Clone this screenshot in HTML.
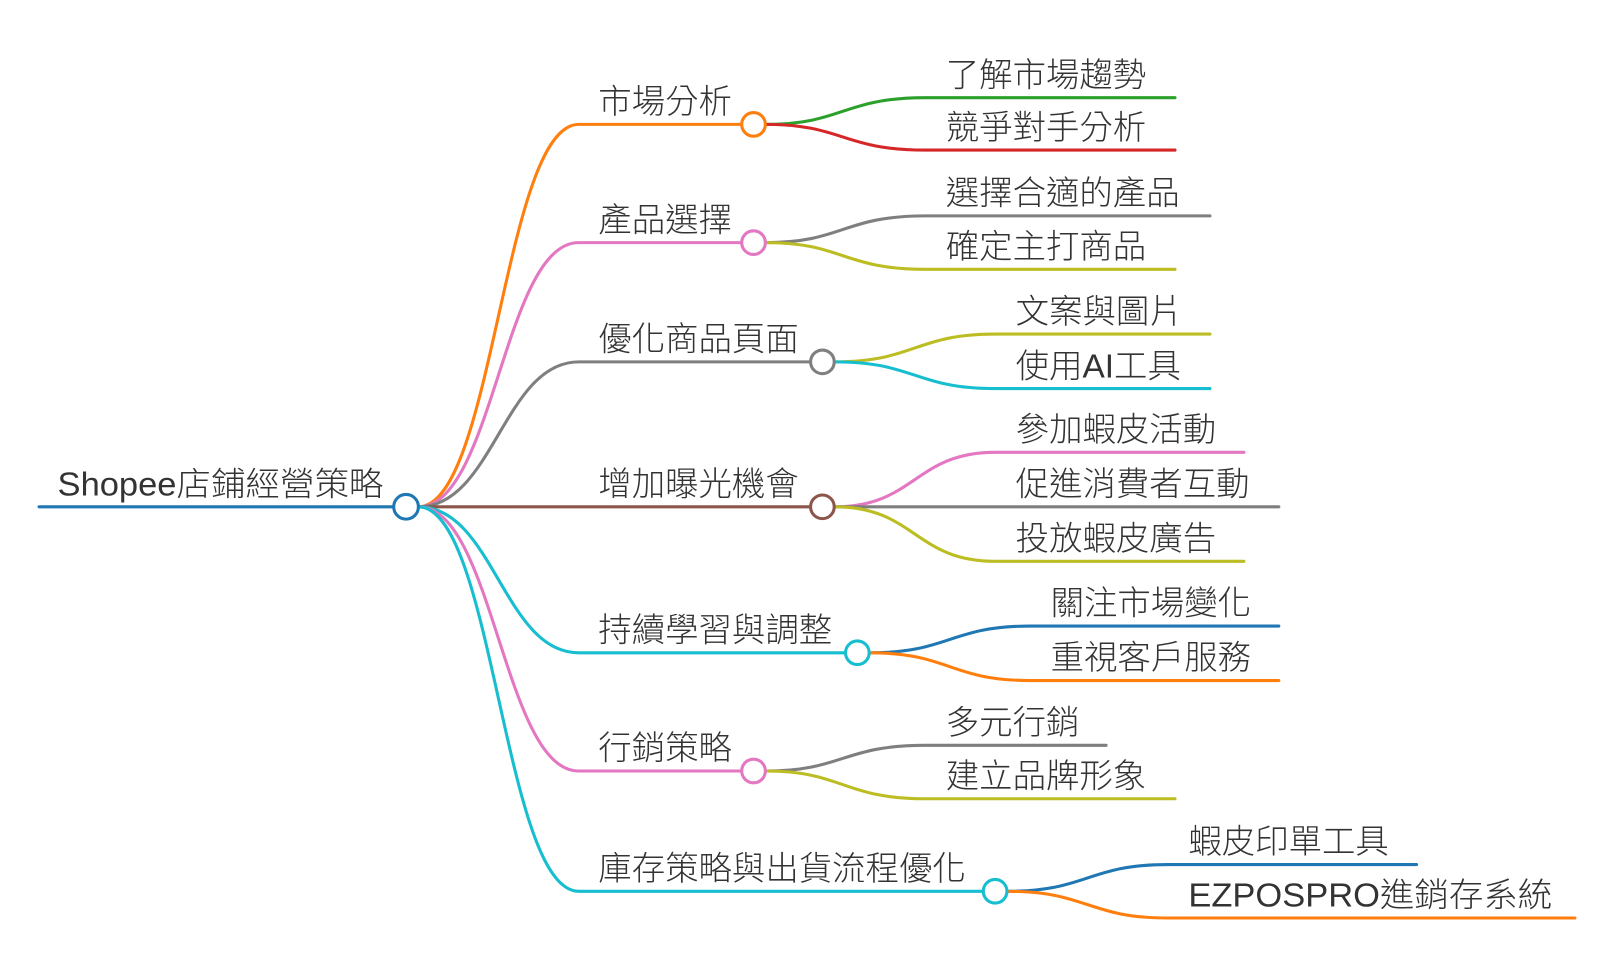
<!DOCTYPE html>
<html><head><meta charset="utf-8"><style>
html,body{margin:0;padding:0;background:#fff;}
svg{display:block;}
text{font-family:"Liberation Sans","Noto Sans CJK TC",sans-serif;fill:#333;font-size:32.5px;font-weight:300;}
</style></head><body>
<svg width="1609" height="971" viewBox="0 0 1609 971" xmlns="http://www.w3.org/2000/svg">
<g transform="scale(1.028)" fill="none" stroke-width="3" stroke-linecap="round">
<path d="M38,493 L383,493" stroke="#1f77b4"/>
<path d="M407,493 C480,493 490,121 563,121 L722,121" stroke="#ff7f0e"/>
<path d="M407,493 C480,493 490,236 563,236 L722,236" stroke="#e377c2"/>
<path d="M407,493 C480,493 490,352 563,352 L789,352" stroke="#7f7f7f"/>
<path d="M407,493 L789,493" stroke="#8c564b"/>
<path d="M407,493 C480,493 490,635 563,635 L823,635" stroke="#17becf"/>
<path d="M407,493 C480,493 490,750 563,750 L722,750" stroke="#e377c2"/>
<path d="M407,493 C480,493 490,867 563,867 L957,867" stroke="#17becf"/>
<path d="M745,121 C820,121 820,95 900,95 L1143,95" stroke="#2ca02c"/>
<path d="M745,121 C820,121 820,146 900,146 L1143,146" stroke="#d62728"/>
<path d="M745,236 C820,236 820,210 900,210 L1177,210" stroke="#7f7f7f"/>
<path d="M745,236 C820,236 820,262 900,262 L1143,262" stroke="#bcbd22"/>
<path d="M812,352 C890,352 890,325 968,325 L1177,325" stroke="#bcbd22"/>
<path d="M812,352 C890,352 890,378 968,378 L1177,378" stroke="#17becf"/>
<path d="M812,493 C890,493 890,440 968,440 L1210,440" stroke="#e377c2"/>
<path d="M812,493 L1244,493" stroke="#7f7f7f"/>
<path d="M812,493 C890,493 890,546 968,546 L1210,546" stroke="#bcbd22"/>
<path d="M846,635 C924,635 924,609 1002,609 L1244,609" stroke="#1f77b4"/>
<path d="M846,635 C924,635 924,662 1002,662 L1244,662" stroke="#ff7f0e"/>
<path d="M745,750 C820,750 820,725 900,725 L1076,725" stroke="#7f7f7f"/>
<path d="M745,750 C820,750 820,777 900,777 L1143,777" stroke="#bcbd22"/>
<path d="M980,867 C1058,867 1058,841 1136,841 L1378,841" stroke="#1f77b4"/>
<path d="M980,867 C1058,867 1058,893 1136,893 L1532,893" stroke="#ff7f0e"/>
<g fill="#fff">
<circle cx="395" cy="493" r="12" stroke="#1f77b4"/>
<circle cx="733" cy="121" r="11.5" stroke="#ff7f0e"/>
<circle cx="733" cy="236" r="11.5" stroke="#e377c2"/>
<circle cx="800" cy="352" r="11.5" stroke="#7f7f7f"/>
<circle cx="800" cy="493" r="11.5" stroke="#8c564b"/>
<circle cx="834" cy="635" r="11.5" stroke="#17becf"/>
<circle cx="733" cy="750" r="11.5" stroke="#e377c2"/>
<circle cx="968" cy="867" r="11.5" stroke="#17becf"/>
</g>
</g>
<g transform="scale(1.028)">
<text x="56" y="482" style="font-size:32px" textLength="317" lengthAdjust="spacingAndGlyphs">Shopee店鋪經營策略</text>
<text x="582" y="110">市場分析</text>
<text x="582" y="225">產品選擇</text>
<text x="582" y="341">優化商品頁面</text>
<text x="582" y="482">增加曝光機會</text>
<text x="582" y="624">持續學習與調整</text>
<text x="582" y="739">行銷策略</text>
<text x="582" y="856">庫存策略與出貨流程優化</text>
<text x="920" y="84">了解市場趨勢</text>
<text x="920" y="135">競爭對手分析</text>
<text x="920" y="199">選擇合適的產品</text>
<text x="920" y="251">確定主打商品</text>
<text x="988" y="314">文案與圖片</text>
<text x="988" y="367">使用AI工具</text>
<text x="988" y="429">參加蝦皮活動</text>
<text x="988" y="482">促進消費者互動</text>
<text x="988" y="535">投放蝦皮廣告</text>
<text x="1022" y="598">關注市場變化</text>
<text x="1022" y="651">重視客戶服務</text>
<text x="920" y="714">多元行銷</text>
<text x="920" y="766">建立品牌形象</text>
<text x="1156" y="830">蝦皮印單工具</text>
<text x="1156" y="882" textLength="354" lengthAdjust="spacingAndGlyphs">EZPOSPRO進銷存系統</text>
</g>
</svg>
</body></html>
